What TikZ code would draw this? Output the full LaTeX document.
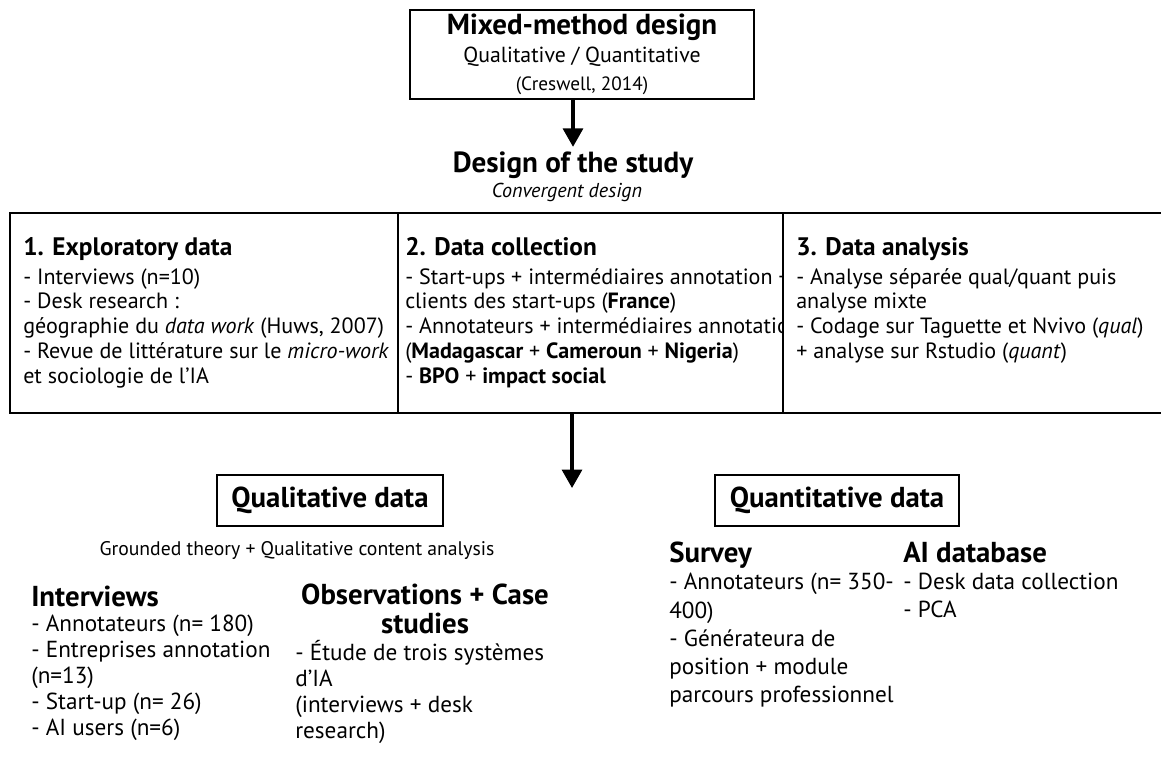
\documentclass[tikz,border=0pt]{standalone}
\usepackage{fontspec}
\setmainfont{PT Sans}
\usetikzlibrary{arrows.meta}

\tikzset{
  frame/.style={draw, line width=1.6pt},
  arr/.style={line width=2.2pt, -{Triangle[length=4.6mm,width=5mm]}},
  body/.style={anchor=north west, align=left, inner sep=0pt, font=\fontsize{15.7}{17.6}\selectfont},
  lowbody/.style={anchor=north west, align=left, inner sep=0pt, font=\fontsize{16.5}{18.5}\selectfont},
  coltitle/.style={anchor=base west, inner sep=0pt, font=\fontsize{18}{20}\bfseries},
  lowtitle/.style={anchor=base west, inner sep=0pt, font=\fontsize{20.5}{20}\bfseries},
  databox/.style={frame, minimum height=1.275cm, font=\fontsize{20.5}{22}\bfseries},
}

\begin{document}
\begin{tikzpicture}[x=0.025cm, y=-0.025cm]
\useasboundingbox (0,0) rectangle (1161,757);

% mixed method
\node[frame, align=center, minimum width=8.6cm, minimum height=2.225cm, font=\fontsize{15.5}{19.7}\selectfont] (mixed) at (582,54.5)
  {{\fontsize{20.6}{22}\bfseries Mixed-method design}\\ Qualitative / Quantitative\\ {\fontsize{13.7}{16}\selectfont (Creswell, 2014)}};
\node[font=\fontsize{20.7}{22}\bfseries, anchor=base, inner sep=3pt] (design) at (573,172) {Design of the study};
\node[font=\fontsize{14.3}{16}\itshape, anchor=base, inner sep=0pt] (convergent) at (567,197) {Convergent design};
\draw[arr] (mixed.south -| design) to (design.north);

% three phases
\draw[frame] (10,213) rectangle (1175,413);
\draw[frame] (398,213) -- (398,413);
\coordinate (split) at (572,413);
\coordinate (splitend) at (572,488);

\node[coltitle] (explo) at (23,255) {1. Exploratory data};
\node[body] (explobody) at (23,268) {- Interviews (n=10)\\
- Desk research :\\
géographie du \emph{data work} (Huws, 2007)\\
- Revue de littérature sur le \emph{micro-work}\\
et sociologie de l’IA};

\begin{scope}
\clip (398,213) rectangle (783,413);
\node[coltitle] (collect) at (405,255) {2. Data collection};
\node[body] (collectbody) at (405,268) {- Start-ups + intermédiaires annotation +\\
clients des start-ups (\textbf{France})\\
- Annotateurs + intermédiaires annotation\\
(\textbf{Madagascar} + \textbf{Cameroun} + \textbf{Nigeria})\\
- \textbf{BPO} + \textbf{impact social}};
\end{scope}
\draw[frame] (783,213) -- (783,413);

\node[coltitle] (analysis) at (796,255) {3. Data analysis};
\node[body] (analysisbody) at (796,268) {- Analyse séparée qual/quant puis\\
analyse mixte\\
- Codage sur Taguette et Nvivo (\emph{qual})\\
+ analyse sur Rstudio (\emph{quant})};

\draw[arr] (split) -- (splitend);

% qualitative
\node[databox, minimum width=5.65cm] (qual) at (330,500.5) {Qualitative data};
\node[font=\fontsize{14}{16}\selectfont, anchor=base, inner sep=0pt] (grounded) at (297,555) {Grounded theory + Qualitative content analysis};

\node[lowtitle] (interviews) at (31,606) {Interviews};
\node[lowbody] (interviewsbody) at (31,615) {- Annotateurs (n= 180)\\
- Entreprises annotation\\
(n=13)\\
- Start-up (n= 26)\\
- AI users (n=6)};

\node[lowtitle, align=center, anchor=north] (obs) at (425,584) {Observations + Case\\ studies};
\node[lowbody] (obsbody) at (295,640) {- Étude de trois systèmes\\
d’IA\\
(interviews + desk\\
research)};

% quantitative
\node[databox, minimum width=6.1cm] (quant) at (837,500.5) {Quantitative data};

\node[lowtitle] (survey) at (669,562) {Survey};
\node[lowbody, font=\fontsize{16.5}{20.1}\selectfont] (surveybody) at (669,573) {- Annotateurs (n= 350-\\
400)\\
- Générateura de\\
position + module\\
parcours professionnel};

\node[lowtitle] (aidb) at (903,562) {AI database};
\node[lowbody, font=\fontsize{16.5}{20.1}\selectfont] (aidbbody) at (903,573) {- Desk data collection\\
- PCA};
\end{tikzpicture}
\end{document}
